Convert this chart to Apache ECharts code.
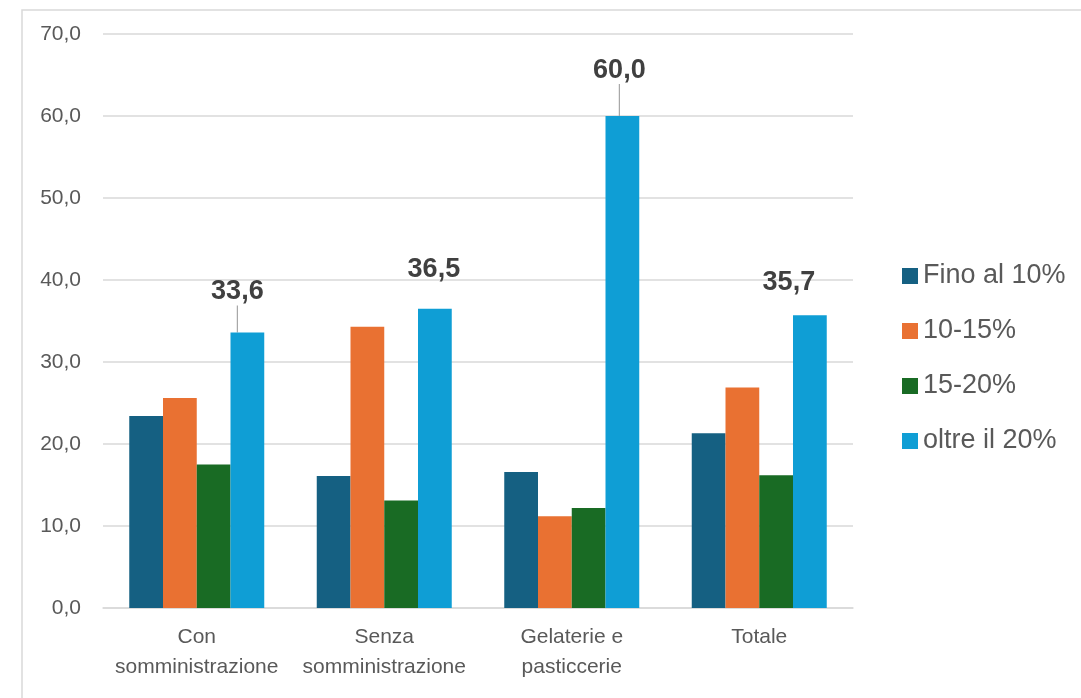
<!DOCTYPE html>
<html>
<head>
<meta charset="utf-8">
<script src="https://cdn.jsdelivr.net/npm/echarts@6/dist/echarts.min.js"></script>
<style>
html,body{margin:0;padding:0;background:#fff;}
#chart{width:1081px;height:698px;}
</style>
</head>
<body>
<div id="chart"></div>
<script>
const categories = ['Con\nsomministrazione', 'Senza\nsomministrazione', 'Gelaterie e\npasticcerie', 'Totale'];
const seriesNames = ['Fino al 10%', '10-15%', '15-20%', 'oltre il 20%'];
const fino10 = [23.4, 16.1, 16.6, 21.3];
const da10a15 = [25.6, 34.3, 11.2, 26.9];
const da15a20 = [17.5, 13.1, 12.2, 16.2];
const oltre20 = [33.6, 36.5, 60.0, 35.7];
const colors = ['#156082', '#E97132', '#196B24', '#0F9ED5'];
// label displacement for the labelled series (dx, dy) and whether a leader line is drawn
const labelShift = [[-10, -22, true], [-1, -21, false], [-3, -27, true], [-21, -14, false]];

const chart = echarts.init(document.getElementById('chart'));
const fmt = v => v.toFixed(1).replace('.', ',');

function mk(name, data, idx, labelled) {
  return {
    name: name,
    type: 'bar',
    data: labelled ? data.map((v, i) => ({
      value: v,
      labelLine: { show: labelShift[i][2] }
    })) : data,
    barGap: '0%',
    barCategoryGap: '28%',
    itemStyle: { color: colors[idx] },
    label: labelled ? {
      show: true,
      position: 'top',
      distance: 5,
      formatter: p => fmt(p.value),
      fontFamily: 'Liberation Sans, Arial, sans-serif',
      fontSize: 27,
      fontWeight: 'bold',
      color: '#404040'
    } : { show: false },
    labelLine: labelled ? { show: true, lineStyle: { color: '#a6a6a6', width: 1.2 } } : undefined,
    labelLayout: labelled ? (p => ({ dx: labelShift[p.dataIndex][0], dy: labelShift[p.dataIndex][1] })) : undefined,
    emphasis: { disabled: true }
  };
}

chart.setOption({
  animation: false,
  graphic: [{
    type: 'rect',
    shape: { x: 22, y: 10, width: 1200, height: 1000 },
    style: { fill: 'none', stroke: '#d9d9d9', lineWidth: 1.5 },
    silent: true, z: -10
  }],
  grid: { left: 103, right: 228, top: 34, bottom: 90, containLabel: false },
  legend: {
    orient: 'vertical',
    left: 897,
    top: 257,
    itemWidth: 16,
    itemHeight: 16,
    itemGap: 27,
    icon: 'rect',
    data: seriesNames,
    textStyle: { fontFamily: 'Liberation Sans, Arial, sans-serif', fontSize: 27, color: '#595959', lineHeight: 28, padding: [0, 0, 0, 0] }
  },
  xAxis: {
    type: 'category',
    data: categories,
    axisLine: { show: true, lineStyle: { color: '#d9d9d9', width: 1.5 } },
    axisTick: { show: false },
    axisLabel: {
      interval: 0,
      margin: 14,
      fontFamily: 'Liberation Sans, Arial, sans-serif',
      fontSize: 21,
      lineHeight: 30,
      color: '#595959'
    }
  },
  yAxis: {
    type: 'value',
    min: 0,
    max: 70,
    interval: 10,
    axisLine: { show: false },
    axisTick: { show: false },
    splitLine: { lineStyle: { color: '#d9d9d9', width: 1.5 } },
    axisLabel: {
      margin: 22,
      formatter: v => fmt(v),
      fontFamily: 'Liberation Sans, Arial, sans-serif',
      fontSize: 21,
      color: '#595959'
    }
  },
  series: [
    mk(seriesNames[0], fino10, 0, false),
    mk(seriesNames[1], da10a15, 1, false),
    mk(seriesNames[2], da15a20, 2, false),
    mk(seriesNames[3], oltre20, 3, true)
  ]
});
</script>
</body>
</html>
